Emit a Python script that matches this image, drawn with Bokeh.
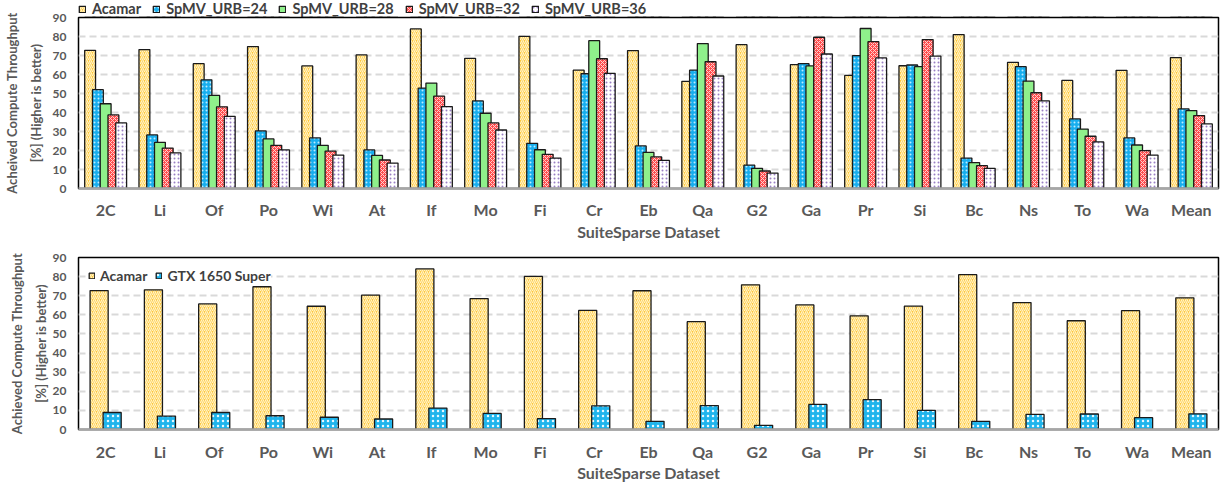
from bokeh.plotting import figure
from bokeh.models import ColumnDataSource, FactorRange, Range1d, Legend, LegendItem, FixedTicker
from bokeh.transform import dodge
from bokeh.layouts import column
from bokeh.embed import file_html
from bokeh.resources import INLINE

categories = ["2C", "Li", "Of", "Po", "Wi", "At", "If", "Mo", "Fi", "Cr", "Eb",
              "Qa", "G2", "Ga", "Pr", "Si", "Bc", "Ns", "To", "Wa", "Mean"]
acamar = [72.7, 73.1, 65.7, 74.7, 64.5, 70.3, 84.0, 68.5, 80.1, 62.3, 72.6,
          56.4, 75.7, 65.2, 59.5, 64.6, 81.0, 66.4, 56.9, 62.2, 68.9]
urb24 = [52.0, 28.2, 57.2, 30.3, 26.6, 20.3, 52.8, 46.1, 23.8, 60.4, 22.4,
         62.3, 12.3, 65.7, 69.9, 65.0, 16.0, 64.1, 36.6, 26.6, 41.9]
urb28 = [44.6, 24.3, 49.0, 26.1, 22.7, 17.4, 55.5, 39.6, 20.4, 77.8, 19.0,
         76.3, 10.6, 64.5, 84.2, 64.1, 13.6, 56.5, 31.3, 22.9, 41.0]
urb32 = [38.7, 21.3, 43.0, 22.7, 19.7, 15.0, 48.6, 34.5, 18.0, 68.3, 16.6,
         66.7, 9.2, 79.6, 77.3, 78.4, 12.0, 50.4, 27.5, 19.9, 38.4]
urb36 = [34.5, 18.7, 38.0, 20.3, 17.6, 13.4, 43.1, 30.8, 16.0, 60.6, 14.8,
         59.2, 8.1, 70.8, 68.7, 69.7, 10.6, 46.1, 24.5, 17.6, 34.0]
gtx = [8.9, 7.0, 8.9, 7.2, 6.4, 5.5, 11.2, 8.4, 5.7, 12.4, 4.3,
       12.5, 2.2, 13.1, 15.6, 10.0, 4.3, 7.9, 8.1, 6.2, 8.2]
y_ticks = [0, 10, 20, 30, 40, 50, 60, 70, 80, 90]

top_series = ["Acamar", "SpMV_URB=24", "SpMV_URB=28", "SpMV_URB=32", "SpMV_URB=36"]
bottom_series = ["Acamar", "GTX 1650 Super"]

FONT = "Lato"
GREY = "#595959"
LEGEND_TEXT = "#404040"

source = ColumnDataSource(dict(cat=categories, acamar=acamar, urb24=urb24, urb28=urb28,
                               urb32=urb32, urb36=urb36, gtx=gtx))

styles = {
    "acamar": dict(fill_color="#FFC83D", hatch_pattern="right_diagonal_line", hatch_color="#FFF3C8",
                   hatch_scale=4, hatch_weight=1.2),
    "urb24": dict(fill_color="#17AEEE", hatch_pattern="dot", hatch_color="#BDEBFF",
                  hatch_scale=4, hatch_weight=1),
    "urb28": dict(fill_color="#8FF08B"),
    "urb32": dict(fill_color="#FF4D4D", hatch_pattern="diagonal_cross", hatch_color="#FFD0D0",
                  hatch_scale=4, hatch_weight=1),
    "urb36": dict(fill_color="#FFFFFF", hatch_pattern="dot", hatch_color="#9A80C4",
                  hatch_scale=4, hatch_weight=1),
    "gtx": dict(fill_color="#1FB4EC", hatch_pattern="dot", hatch_color="#E6F8FF",
                hatch_scale=5, hatch_weight=1),
}
keys = ["acamar", "urb24", "urb28", "urb32", "urb36"]
BAR_LINE = dict(line_color="#1A1A1A", line_width=1.3)

LEFT = 78
FRAME_W = 1140
RIGHT = 1222 - LEFT - FRAME_W


def make_fig(frame_h, top, ylabel, ylabel_standoff, xlabel_standoff, xtitle_standoff):
    p = figure(x_range=FactorRange(*categories, range_padding=0), y_range=Range1d(0, 90),
               frame_width=FRAME_W, frame_height=frame_h,
               output_backend="svg", toolbar_location=None,
               min_border_left=LEFT, min_border_right=RIGHT,
               min_border_top=top, min_border_bottom=0)
    p.background_fill_color = "white"
    p.border_fill_color = "white"
    p.outline_line_color = "black"
    p.outline_line_width = 1.5
    p.xgrid.grid_line_color = None
    p.ygrid.grid_line_color = "#D9D9D9"
    p.ygrid.grid_line_width = 2
    p.ygrid.grid_line_dash = "7 4"
    p.yaxis.ticker = FixedTicker(ticks=y_ticks)
    for ax in (p.xaxis[0], p.yaxis[0]):
        ax.major_tick_line_color = None
        ax.minor_tick_line_color = None
        ax.major_tick_out = 0
        ax.major_tick_in = 0
        ax.minor_tick_out = 0
        ax.minor_tick_in = 0
        ax.major_label_text_font = FONT
        ax.major_label_text_font_style = "bold"
        ax.major_label_text_color = GREY
        ax.axis_label_text_font = FONT
        ax.axis_label_text_font_style = "bold"
        ax.axis_label_text_color = GREY
    p.yaxis.axis_line_color = None
    p.yaxis.major_label_text_font_size = "12px"
    p.yaxis.major_label_standoff = 12
    p.yaxis.axis_label = ylabel
    p.yaxis.axis_label_text_font_size = "13px"
    p.yaxis.axis_label_text_line_height = 1.5
    p.yaxis.axis_label_standoff = ylabel_standoff
    p.xaxis.axis_line_color = "#A6A6A6"
    p.xaxis.axis_line_width = 2.5
    p.xaxis.major_label_text_font_size = "16px"
    p.xaxis.major_label_standoff = xlabel_standoff
    p.xaxis.axis_label = "SuiteSparse Dataset"
    p.xaxis.axis_label_text_font_size = "16px"
    p.xaxis.axis_label_standoff = xtitle_standoff
    return p


# ---- strip holding the top chart's legend (its bars lie far outside its y range)
LEG_H = 17
p0 = figure(x_range=FactorRange(*categories, range_padding=0), y_range=Range1d(1000, 1001),
            frame_width=FRAME_W, frame_height=LEG_H,
            min_border_left=LEFT, min_border_right=RIGHT, min_border_top=0, min_border_bottom=0,
            x_axis_type=None, y_axis_type=None, output_backend="svg", toolbar_location=None)
p0.outline_line_color = None
p0.grid.grid_line_color = None
p0.background_fill_color = "white"
p0.border_fill_color = "white"
offsets = [-0.286, -0.143, 0.0, 0.143, 0.286]
items0 = []
for key, off, name in zip(keys, offsets, top_series):
    r = p0.vbar(x=dodge("cat", off, range=p0.x_range), top=key, width=0.2, source=source,
                **BAR_LINE, **styles[key])
    items0.append(LegendItem(label=name, renderers=[r]))
leg0 = Legend(items=items0, orientation="horizontal", location=(0, 0),
              glyph_width=8, glyph_height=8, label_standoff=6, spacing=11,
              padding=0, margin=0, border_line_color=None, background_fill_alpha=0,
              label_text_font=FONT, label_text_font_style="bold", label_text_font_size="14.5px",
              label_text_line_height=1.0, label_text_color=LEGEND_TEXT, label_height=14)
p0.add_layout(leg0)

# ---- top chart; pulled up over the legend strip so its axis title has room
p1 = make_fig(171, LEG_H, "Acheived Compute Throughput\n[%] (Higher is better)", 6, 11, 0)
p1.margin = (-LEG_H, 0, 0, 0)
p1.border_fill_alpha = 0
for key, off in zip(keys, offsets):
    p1.vbar(x=dodge("cat", off, range=p1.x_range), top=key, width=0.2, source=source,
            **BAR_LINE, **styles[key])

# ---- bottom chart
p2 = make_fig(172, 14, "Achieved Compute Throughput\n[%] (Higher is better)", 1, 12, -1)
items2 = []
for key, off, name in zip(["acamar", "gtx"], [-0.12, 0.12], bottom_series):
    r = p2.vbar(x=dodge("cat", off, range=p2.x_range), top=key, width=0.333, source=source,
                **BAR_LINE, **styles[key])
    items2.append(LegendItem(label=name, renderers=[r]))
leg2 = Legend(items=items2, orientation="horizontal", location="top_left",
              glyph_width=7, glyph_height=7, label_standoff=5, spacing=8,
              padding=3, margin=10, border_line_color=None, background_fill_color="white",
              background_fill_alpha=1,
              label_text_font=FONT, label_text_font_style="bold", label_text_font_size="14px",
              label_text_color=LEGEND_TEXT, label_height=17)
p2.add_layout(leg2)

layout = column(p0, p1, p2, spacing=0)
open("out.html", "w").write(file_html(layout, INLINE))
